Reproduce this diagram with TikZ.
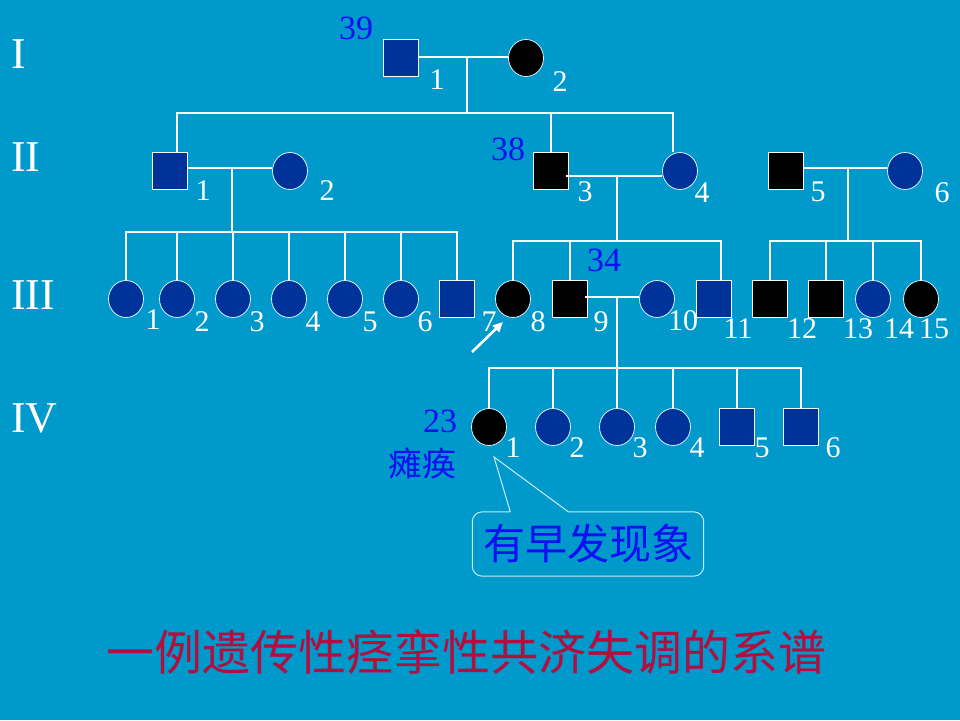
\documentclass[tikz,border=0pt]{standalone}
\usepackage{fontspec}
\setmainfont{Liberation Serif}
\newfontfamily\cjk{Noto Sans CJK SC}
\usetikzlibrary{shapes.geometric,arrows.meta}
\definecolor{bg}{HTML}{0099CC}
\definecolor{pblue}{HTML}{003399}
\definecolor{numblue}{HTML}{1010F0}
\definecolor{titlered}{HTML}{B01040}
\definecolor{callborder}{HTML}{C8ECF8}
\tikzset{
  male/.style={rectangle, draw=white, line width=0.8pt, fill=pblue, minimum width=35pt, minimum height=37pt, inner sep=0pt},
  female/.style={ellipse, draw=white!85!cyan, line width=0.8pt, fill=pblue, minimum width=35pt, minimum height=37pt, inner sep=0pt},
  aff/.style={fill=black},
  link/.style={draw=white, line width=1.1pt},
  idx/.style={text=white, inner sep=0pt, font=\fontsize{30}{30}\selectfont},
  gen/.style={text=white, inner sep=0pt, anchor=west, font=\fontsize{44}{44}\selectfont},
  age/.style={text=numblue, inner sep=0pt, font=\fontsize{34}{34}\selectfont},
}
\begin{document}
\begin{tikzpicture}[x=1pt,y=-1pt]
\fill[bg] (0,0) rectangle (960,720);
\useasboundingbox (0,0) rectangle (960,720);

% generation labels
\node[gen] (gI) at (11,54) {I};
\node[gen] (gII) at (11,157) {II};
\node[gen] (gIII) at (11,295) {III};
\node[gen] (gIV) at (11,418) {IV};

% Generation I
\node[male] (I1) at (401,58) {};
\node[female,aff] (I2) at (526,58) {};
\node[idx] (lI1) at (437,80) {1};
\node[idx] (lI2) at (560,82) {2};
\node[age] (a39) at (356,28) {39};

% Generation II
\node[male] (II1) at (170,171) {};
\node[female] (II2) at (290,171) {};
\node[male,aff] (II3) at (551,171) {};
\node[female] (II4) at (680,171) {};
\node[male,aff] (II5) at (786,171) {};
\node[female] (II6) at (905,171) {};
\node[idx] (lII1) at (203,191) {1};
\node[idx] (lII2) at (327,191) {2};
\node[idx] (lII3) at (585,192) {3};
\node[idx] (lII4) at (702,193) {4};
\node[idx] (lII5) at (818,192) {5};
\node[idx] (lII6) at (942,193) {6};
\node[age] (a38) at (508,149) {38};

% Generation III
\foreach \n/\x in {1/126,2/177,3/233,4/289,5/345,6/401}
  \node[female] (III\n) at (\x,299) {};
\node[male] (III7) at (457,299) {};
\node[female,aff] (III8) at (513,299) {};
\node[male,aff] (III9) at (570,299) {};
\node[female] (III10) at (657,299) {};
\node[male] (III11) at (714,299) {};
\node[male,aff] (III12) at (770,299) {};
\node[male,aff] (III13) at (826,299) {};
\node[female] (III14) at (873,299) {};
\node[female,aff] (III15) at (921,299) {};
\node[idx] (lIII1) at (153,320) {1};
\foreach \n/\x/\y in {2/202/322,3/257/322,4/313/322,5/370/322,6/425/322,7/489/322,8/538/322,9/601/322,10/683/321,11/738/329,12/802/329,13/858/329,14/899/329,15/934/329}
  \node[idx] (lIII\n) at (\x,\y) {\n};
\node[age] (a34) at (604,260) {34};

% Generation IV
\node[female,aff] (IV1) at (489,427) {};
\node[female] (IV2) at (553,427) {};
\node[female] (IV3) at (617,427) {};
\node[female] (IV4) at (673,427) {};
\node[male] (IV5) at (737,427) {};
\node[male] (IV6) at (801,427) {};
\foreach \n/\x in {1/513,2/577,3/640,4/697,5/762,6/833}
  \node[idx] (lIV\n) at (\x,448) {\n};
\node[age] (a23) at (440,421) {23};
\node[age, font=\cjk\fontsize{34}{34}\selectfont] (tanhuan) at (422,464) {瘫痪};

% hubs
\coordinate (h1) at (467,57);
\coordinate (s2) at (467,113);
\coordinate (h2a) at (232,168);
\coordinate (s3a) at (232,232);
\coordinate (h2b) at (617,176);
\coordinate (s3b) at (617,241);
\coordinate (h2c) at (848,168);
\coordinate (s3c) at (848,241);
\coordinate (h3) at (617,297);
\coordinate (s4) at (617,368);
\coordinate (c1) at ([xshift=7pt]II1.north);
\coordinate (c4) at ([xshift=-7pt]II4.north);
\coordinate (c11) at ([xshift=7pt]III11.north);

% Generation I links
\draw[link] (I1.east |- h1) -- (I2.west |- h1);
\draw[link] (h1) -- (s2);
\draw[link] (c1) |- (s2) -| (c4);
\draw[link] (II3.north) -- (II3.north |- s2);

% Generation II links
\draw[link] (II1.east |- h2a) -- (II2.west |- h2a);
\draw[link] (h2a) -- (s3a);
\draw[link] (III1.north) |- (s3a) -| (III7.north);
\foreach \n in {2,...,6}
  \draw[link] (III\n.north) -- (III\n.north |- s3a);

\draw[link] ([xshift=-3pt]II3.east |- h2b) -- (II4.west |- h2b);
\draw[link] (h2b) -- (s3b);
\draw[link] (III8.north) |- (s3b) -| (c11);
\draw[link] (III9.north) -- (III9.north |- s3b);

\draw[link] (II5.east |- h2c) -- (II6.west |- h2c);
\draw[link] (h2c) -- (s3c);
\draw[link] (III12.north) |- (s3c) -| (III15.north);
\draw[link] (III13.north) -- (III13.north |- s3c);
\draw[link] (III14.north) -- (III14.north |- s3c);

% Generation III links
\draw[link] ([xshift=-3pt]III9.east |- h3) -- (III10.west |- h3);
\draw[link] (h3) -- (s4);
\draw[link] (IV1.north) |- (s4) -| (IV6.north);
\foreach \n in {2,3,4,5}
  \draw[link] (IV\n.north) -- (IV\n.north |- s4);

% proband arrow
\coordinate (arrs) at (472,352);
\coordinate (arrt) at (503,322);
\draw[white, line width=2.6pt, -{Triangle[length=10pt,width=9pt]}] (arrs) -- (arrt);

% callout
\node[text=numblue, minimum width=231pt, minimum height=64pt, inner sep=0pt,
      font=\cjk\fontsize{42}{42}\selectfont] (note) at (588,544) {有早发现象};
\coordinate (tip) at (494,457);
\draw[callborder, line width=1pt] ([xshift=38pt]note.north west) -- (tip) -- ([xshift=96pt]note.north west)
  [rounded corners=10pt] -- (note.north east) -- (note.south east) -- (note.south west) -- (note.north west) -- ([xshift=38pt]note.north west);

% title
\node[text=titlered, inner sep=0pt, font=\cjk\fontsize{48}{48}\selectfont] (title) at (466,652) {一例遗传性痉挛性共济失调的系谱};
\end{tikzpicture}
\end{document}
